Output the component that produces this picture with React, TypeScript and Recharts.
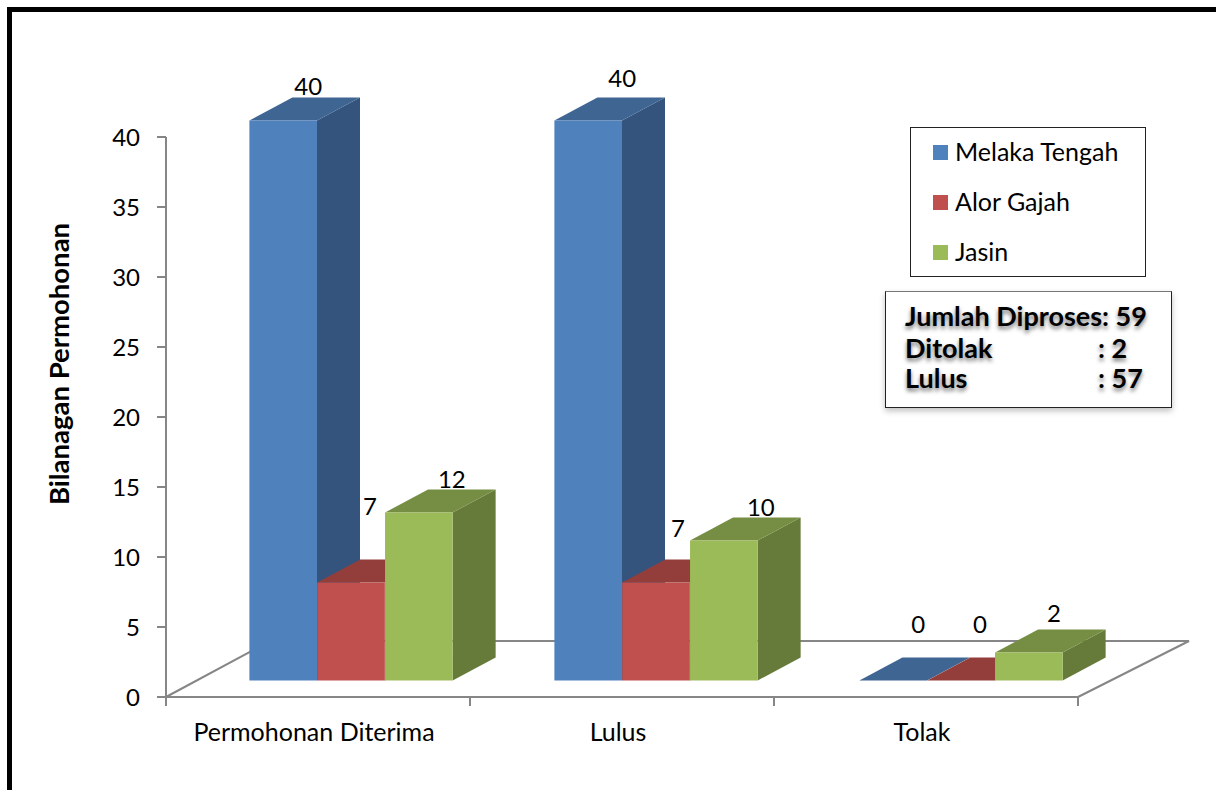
import { BarChart, Bar, XAxis, YAxis, Legend, LabelList, Label, usePlotArea } from "recharts";

const categories = ["Permohonan Diterima", "Lulus", "Tolak"];
const melakaTengah = [40, 40, 0];
const alorGajah = [7, 7, 0];
const jasin = [12, 10, 2];
const yTicks = [0, 5, 10, 15, 20, 25, 30, 35, 40];

const rows = categories.map((name, i) => ({
  name,
  "Melaka Tengah": melakaTengah[i],
  "Alor Gajah": alorGajah[i],
  Jasin: jasin[i],
}));

const FONT = "Lato, sans-serif";
const AXIS_GREY = "#868686";
const BAR_WIDTH = 67.6;
const DEPTH_X = 43;
const DEPTH_Y = 23;
const LIFT = 16.5;

// where each series' value label sits, relative to the top of its front face
const nudgeMelaka = [[25, -35], [34, -43], [25, -57]];
const nudgeAlor = [[19, -77], [22, -55], [19, -57]];
const nudgeJasin = [[33, -34], [37, -34], [25, -40]];

// groups drift slightly to the right of the axis bands, as in the 3D view
const shiftX = (x: number) => x + 32.4 + (x - 216.6) / 304;

function Block(props: any) {
  const { x, y, width, height, fill, topFill, sideFill } = props;
  const left = shiftX(x);
  const right = left + width;
  const top = y - LIFT;
  const bottom = top + height;
  return (
    <g>
      <polygon
        points={`${right},${top} ${right + DEPTH_X},${top - DEPTH_Y} ${right + DEPTH_X},${bottom - DEPTH_Y} ${right},${bottom}`}
        fill={sideFill}
      />
      <polygon
        points={`${left},${top} ${left + DEPTH_X},${top - DEPTH_Y} ${right + DEPTH_X},${top - DEPTH_Y} ${right},${top}`}
        fill={topFill}
      />
      <rect x={left} y={top} width={width} height={height} fill={fill} />
    </g>
  );
}

function valueLabel(nudges: number[][]) {
  return (props: any) => {
    const { x, y, width, value, index } = props;
    const cx = shiftX(x) + width / 2 + nudges[index][0];
    const cy = y - LIFT + nudges[index][1];
    return (
      <text x={cx} y={cy} textAnchor="middle" dominantBaseline="central" fontFamily={FONT} fontSize={24} fill="#000">
        {value}
      </text>
    );
  };
}

// the floor of the 3D box, behind the bars
function Floor() {
  const plot = usePlotArea();
  if (!plot) return null;
  const bottom = plot.y + plot.height;
  const rightEnd = plot.x + plot.width;
  return (
    <polyline
      points={`${plot.x},${bottom} ${plot.x + 104},${bottom - 56} ${rightEnd + 111},${bottom - 56} ${rightEnd},${bottom}`}
      fill="none"
      stroke={AXIS_GREY}
      strokeWidth={2}
    />
  );
}

function CategoryTick(props: any) {
  const { x, y, payload, index } = props;
  const half = 152;
  const axisY = 697;
  return (
    <g>
      <line x1={x - half} x2={x - half} y1={axisY} y2={axisY + 9} stroke={AXIS_GREY} strokeWidth={2} />
      {index === categories.length - 1 && (
        <line x1={x + half} x2={x + half} y1={axisY} y2={axisY + 9} stroke={AXIS_GREY} strokeWidth={2} />
      )}
      <text x={x - 4} y={y} textAnchor="middle" dominantBaseline="central" fontFamily={FONT} fontSize={25} fill="#000">
        {payload.value}
      </text>
    </g>
  );
}

function LegendBox(props: any) {
  return (
    <div style={{ width: 234, height: 148, border: "1px solid #222", background: "#fff", position: "relative" }}>
      {(props.payload || []).map((item: any, i: number) => (
        <div key={item.value}>
          <div
            style={{ position: "absolute", left: 22, top: 17 + i * 50, width: 15, height: 15, background: item.color }}
          />
          <div
            style={{ position: "absolute", left: 44, top: 8 + i * 50, lineHeight: "30px", fontFamily: FONT, fontSize: 25, color: "#000", whiteSpace: "nowrap" }}
          >
            {item.value}
          </div>
        </div>
      ))}
    </div>
  );
}

const summaryShadow = "0 3px 4px rgba(0,0,0,0.55)";

function SummaryLine({ top, name, value }: { top: number; name: string; value: string }) {
  const base = { position: "absolute" as const, top, lineHeight: "30px", whiteSpace: "nowrap" as const };
  return (
    <>
      <div style={{ ...base, left: 19 }}>{name}</div>
      <div style={{ ...base, left: 212 }}>{value}</div>
    </>
  );
}

export default function App() {
  return (
    <div style={{ position: "absolute", left: 0, top: 0, width: 1216, height: 790, overflow: "hidden", background: "#fff" }}>
      <div style={{ position: "absolute", left: 7, top: 7, width: 1206, height: 800, border: "5px solid #000" }} />
      <div style={{ position: "absolute", left: 0, top: 0 }}>
        <BarChart
          width={1216}
          height={790}
          data={rows}
          barSize={BAR_WIDTH}
          barGap={0}
          margin={{ top: 137, right: 138, bottom: 33, left: 106 }}
        >
          <XAxis
            dataKey="name"
            interval={0}
            height={60}
            axisLine={{ stroke: AXIS_GREY, strokeWidth: 2 }}
            tickLine={false}
            tickSize={0}
            tickMargin={34}
            tick={CategoryTick}
          />
          <YAxis
            type="number"
            domain={[0, 40]}
            ticks={yTicks}
            interval={0}
            width={60}
            axisLine={{ stroke: AXIS_GREY, strokeWidth: 2 }}
            tickLine={{ stroke: AXIS_GREY, strokeWidth: 2 }}
            tickSize={9}
            tickMargin={17}
            tick={{ fontFamily: FONT, fontSize: 24, fill: "#000" }}
          >
            <Label
              content={() => (
                <text
                  transform="translate(58 364) rotate(-90)"
                  textAnchor="middle"
                  dominantBaseline="central"
                  fontFamily={FONT}
                  fontSize={27.5}
                  fontWeight={700}
                  fill="#000"
                >
                  Bilanagan Permohonan
                </text>
              )}
            />
          </YAxis>
          <Floor />
          <Legend
            layout="horizontal"
            verticalAlign="middle"
            align="center"
            itemSorter={null}
            content={LegendBox}
            wrapperStyle={{ left: 910, top: 127, width: 236, height: 150 }}
          />
          <Bar
            dataKey="Melaka Tengah"
            fill="#4F81BD"
            isAnimationActive={false}
            shape={(p: any) => <Block {...p} topFill="#3F6593" sideFill="#34547D" />}
          >
            <LabelList dataKey="Melaka Tengah" content={valueLabel(nudgeMelaka)} />
          </Bar>
          <Bar
            dataKey="Alor Gajah"
            fill="#C0504D"
            isAnimationActive={false}
            shape={(p: any) => <Block {...p} topFill="#933E3B" sideFill="#7E3432" />}
          >
            <LabelList dataKey="Alor Gajah" content={valueLabel(nudgeAlor)} />
          </Bar>
          <Bar
            dataKey="Jasin"
            fill="#9BBB59"
            isAnimationActive={false}
            shape={(p: any) => <Block {...p} topFill="#768E44" sideFill="#667B3A" />}
          >
            <LabelList dataKey="Jasin" content={valueLabel(nudgeJasin)} />
          </Bar>
        </BarChart>
      </div>
      <div
        style={{
          position: "absolute",
          left: 885,
          top: 291,
          width: 285,
          height: 115,
          border: "1px solid #222",
          borderTopColor: "#777",
          background: "#fff",
          boxShadow: "0 3px 6px rgba(0,0,0,0.25)",
          fontFamily: FONT,
          fontSize: 27,
          fontWeight: 700,
          color: "#000",
          textShadow: summaryShadow,
        }}
      >
        <div style={{ position: "absolute", left: 19, top: 9, lineHeight: "30px", whiteSpace: "nowrap" }}>Jumlah Diproses: 59</div>
        <SummaryLine top={41} name="Ditolak" value=": 2" />
        <SummaryLine top={71} name="Lulus" value=": 57" />
      </div>
    </div>
  );
}
